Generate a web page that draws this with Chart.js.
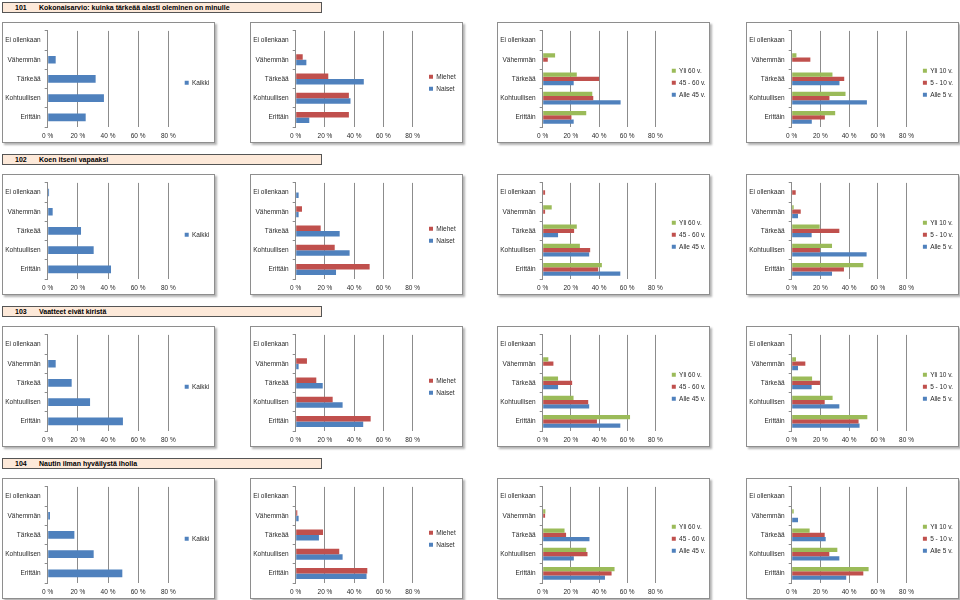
<!DOCTYPE html>
<html><head><meta charset="utf-8">
<script src="https://cdn.jsdelivr.net/npm/chart.js@4.4.1/dist/chart.umd.min.js"></script>
<style>
html,body{margin:0;padding:0;background:#fff;}
#root{position:relative;width:960px;height:600px;overflow:hidden;}
.hdr{position:absolute;box-sizing:border-box;height:11px;width:320px;background:#fde9d9;border:1px solid #555;font:bold 7px "Liberation Sans",Arial,sans-serif;color:#000;}
.hdr span{position:absolute;top:0;line-height:9px;white-space:nowrap;}
.panel{position:absolute;box-sizing:border-box;width:213px;height:121px;border:1px solid #8e8e8e;background:#fff;box-shadow:2px 2px 2px rgba(0,0,0,0.3);}
.panel canvas{position:absolute;left:0;top:0;}
</style></head><body><div id="root"></div>
<script>
// ---- data ----
const CATEGORIES = ['Ei ollenkaan', 'Vähemmän', 'Tärkeää', 'Kohtuullisen', 'Erittäin'];
const X_TICKS = ['0 %', '20 %', '40 %', '60 %', '80 %'];

const GROUP_KAIKKI = ['Kaikki'];
const GROUP_SUKUPUOLI = ['Miehet', 'Naiset'];
const GROUP_IKA = ['Yli 60 v.', '45 - 60 v.', 'Alle 45 v.'];
const GROUP_KOKEMUS = ['Yli 10 v.', '5 - 10 v.', 'Alle 5 v.'];

const Q_NUMBERS = ['101', '102', '103', '104'];
const Q_TITLES = [
  'Kokonaisarvio: kuinka tärkeää alasti oleminen on minulle',
  'Koen itseni vapaaksi',
  'Vaatteet eivät kiristä',
  'Nautin ilman hyväilystä iholla'
];

// values in percent, order = CATEGORIES
const Q101_KAIKKI = [0, 5.3, 31.8, 37.3, 25.2];
const Q101_MIEHET = [0, 4.8, 22.3, 36.4, 36.4];
const Q101_NAISET = [0, 7.3, 46.6, 37.5, 9.3];
const Q101_YLI60 = [0, 8.8, 24.2, 35.2, 30.9];
const Q101_45_60 = [0, 3.6, 40.0, 35.9, 20.4];
const Q101_ALLE45 = [0, 0, 22.0, 55.3, 22.0];
const Q101_YLI10 = [0, 3.3, 28.4, 37.5, 30.3];
const Q101_5_10 = [0, 13.0, 36.6, 26.3, 23.1];
const Q101_ALLE5 = [0, 0, 33.3, 52.4, 14.0];

const Q102_KAIKKI = [0.9, 3.3, 22.1, 30.5, 42.0];
const Q102_MIEHET = [0, 4.3, 17.1, 26.7, 50.6];
const Q102_NAISET = [2.0, 2.0, 30.1, 36.9, 27.6];
const Q102_YLI60 = [0, 6.4, 24.2, 26.4, 42.0];
const Q102_45_60 = [1.7, 1.7, 22.3, 33.7, 39.4];
const Q102_ALLE45 = [0, 0, 10.9, 33.0, 55.1];
const Q102_YLI10 = [0, 1.4, 19.5, 28.1, 49.9];
const Q102_5_10 = [2.8, 6.3, 33.2, 19.7, 36.4];
const Q102_ALLE5 = [0, 4.4, 13.9, 52.2, 28.1];

const Q103_KAIKKI = [0, 5.3, 15.9, 28.1, 49.9];
const Q103_MIEHET = [0, 7.7, 14.1, 25.3, 51.3];
const Q103_NAISET = [0, 2.0, 18.5, 32.1, 46.2];
const Q103_YLI60 = [0, 4.0, 10.9, 21.9, 62.0];
const Q103_45_60 = [0, 7.6, 20.9, 32.3, 38.5];
const Q103_ALLE45 = [0, 0, 10.9, 33.0, 55.1];
const Q103_YLI10 = [0, 3.0, 14.2, 28.5, 52.7];
const Q103_5_10 = [0, 9.5, 19.7, 23.0, 46.6];
const Q103_ALLE5 = [0, 4.4, 13.9, 33.2, 47.3];

const Q104_KAIKKI = [0, 1.5, 17.7, 30.5, 49.5];
const Q104_MIEHET = [0, 1.1, 18.7, 29.8, 49.0];
const Q104_NAISET = [0, 2.0, 15.9, 32.1, 48.5];
const Q104_YLI60 = [0, 1.9, 15.5, 30.9, 51.0];
const Q104_45_60 = [0, 1.7, 16.6, 31.8, 48.9];
const Q104_ALLE45 = [0, 0, 33.2, 22.1, 44.2];
const Q104_YLI10 = [0, 1.4, 12.5, 31.8, 53.6];
const Q104_5_10 = [0, 0, 23.0, 26.2, 49.9];
const Q104_ALLE5 = [0, 4.4, 23.7, 33.2, 38.0];

// table built from the arrays above
const ROWS = [
  [[Q101_KAIKKI], [Q101_MIEHET, Q101_NAISET], [Q101_YLI60, Q101_45_60, Q101_ALLE45], [Q101_YLI10, Q101_5_10, Q101_ALLE5]],
  [[Q102_KAIKKI], [Q102_MIEHET, Q102_NAISET], [Q102_YLI60, Q102_45_60, Q102_ALLE45], [Q102_YLI10, Q102_5_10, Q102_ALLE5]],
  [[Q103_KAIKKI], [Q103_MIEHET, Q103_NAISET], [Q103_YLI60, Q103_45_60, Q103_ALLE45], [Q103_YLI10, Q103_5_10, Q103_ALLE5]],
  [[Q104_KAIKKI], [Q104_MIEHET, Q104_NAISET], [Q104_YLI60, Q104_45_60, Q104_ALLE45], [Q104_YLI10, Q104_5_10, Q104_ALLE5]]
];
const GROUPS = [GROUP_KAIKKI, GROUP_SUKUPUOLI, GROUP_IKA, GROUP_KOKEMUS];

// ---- style / layout ----
const BLUE = '#4f81bd', RED = '#c0504d', GREEN = '#9bbb59';
const GROUP_COLORS = [[BLUE], [RED, BLUE], [GREEN, RED, BLUE], [GREEN, RED, BLUE]];
const GRID = '#8c8c8c';
const TEXT = '#2a2a2a';
const FONT = {family: "'Liberation Sans', Arial, sans-serif", size: 6.5};
const HEADER_TOPS = [2, 154, 306, 458];
const PANEL_TOPS = [22, 174, 326, 478];
const COL_LEFTS = [2, 250, 497, 746];
const CANVAS_W = 211, CANVAS_H = 119;
const PLOT_RIGHT = [165.3, 161.6, 157.4, 159.5];

const legendPlace = {
  id: 'legendPlace',
  beforeLayout(chart, args, opts) {
    const lg = chart.legend;
    if (lg && !lg.__patched) {
      const orig = lg.fit.bind(lg);
      lg.fit = function () { orig(); this.width = opts.width; };
      lg.__patched = true;
    }
  },
  afterLayout(chart, args, opts) {
    const lg = chart.legend;
    if (!lg) return;
    lg.left += opts.shift; lg.right += opts.shift;
    lg.top = 0; lg.bottom = opts.mid * 2;
  }
};

const root = document.getElementById('root');

for (let r = 0; r < 4; r++) {
  const h = document.createElement('div');
  h.className = 'hdr';
  h.style.left = '2px';
  h.style.top = HEADER_TOPS[r] + 'px';
  const s1 = document.createElement('span'); s1.style.left = '12px'; s1.textContent = Q_NUMBERS[r];
  const s2 = document.createElement('span'); s2.style.left = '36px'; s2.textContent = Q_TITLES[r];
  h.appendChild(s1); h.appendChild(s2);
  root.appendChild(h);

  for (let c = 0; c < 4; c++) {
    const p = document.createElement('div');
    p.className = 'panel';
    p.style.left = COL_LEFTS[c] + 'px';
    p.style.top = PANEL_TOPS[r] + 'px';
    const cv = document.createElement('canvas');
    cv.width = CANVAS_W; cv.height = CANVAS_H;
    cv.style.width = CANVAS_W + 'px'; cv.style.height = CANVAS_H + 'px';
    p.appendChild(cv);
    root.appendChild(p);

    const labels = GROUPS[c];
    const series = ROWS[r][c];
    const n = labels.length;
    new Chart(cv, {
      type: 'bar',
      data: {
        labels: CATEGORIES,
        datasets: labels.map((lab, i) => ({
          label: lab,
          data: series[i],
          backgroundColor: GROUP_COLORS[c][i],
          borderWidth: 0,
          categoryPercentage: n / (n + 1.5),
          barPercentage: 1
        }))
      },
      options: {
        indexAxis: 'y',
        responsive: false,
        animation: false,
        devicePixelRatio: 1,
        layout: {padding: {top: 6.5, left: 0, right: 0, bottom: 0}},
        plugins: {
          tooltip: {enabled: false},
          legend: {
            position: 'right', align: 'center',
            labels: {boxWidth: 4, boxHeight: 4, padding: 5.5, font: FONT, color: TEXT}
          },
          legendPlace: {width: CANVAS_W - PLOT_RIGHT[c], shift: 10.9, mid: 59.8}
        },
        scales: {
          x: {
            type: 'linear', min: 0, max: 80, position: 'bottom',
            ticks: {stepSize: 20, padding: 5, font: FONT, color: TEXT, maxRotation: 0, autoSkip: false,
              callback: (v, i) => X_TICKS[i]},
            grid: {color: GRID, drawTicks: false, lineWidth: 1},
            border: {display: false},
            afterFit: s => { s.height = 15; }
          },
          y: {
            type: 'category', offset: true,
            grid: {offset: true, drawOnChartArea: false, drawTicks: true, tickLength: 3, color: GRID},
            border: {display: true, color: GRID},
            ticks: {padding: 4, font: FONT, color: TEXT, autoSkip: false},
            afterFit: s => { s.width = 44.7; }
          }
        }
      },
      plugins: [legendPlace]
    });
  }
}
</script></body></html>
